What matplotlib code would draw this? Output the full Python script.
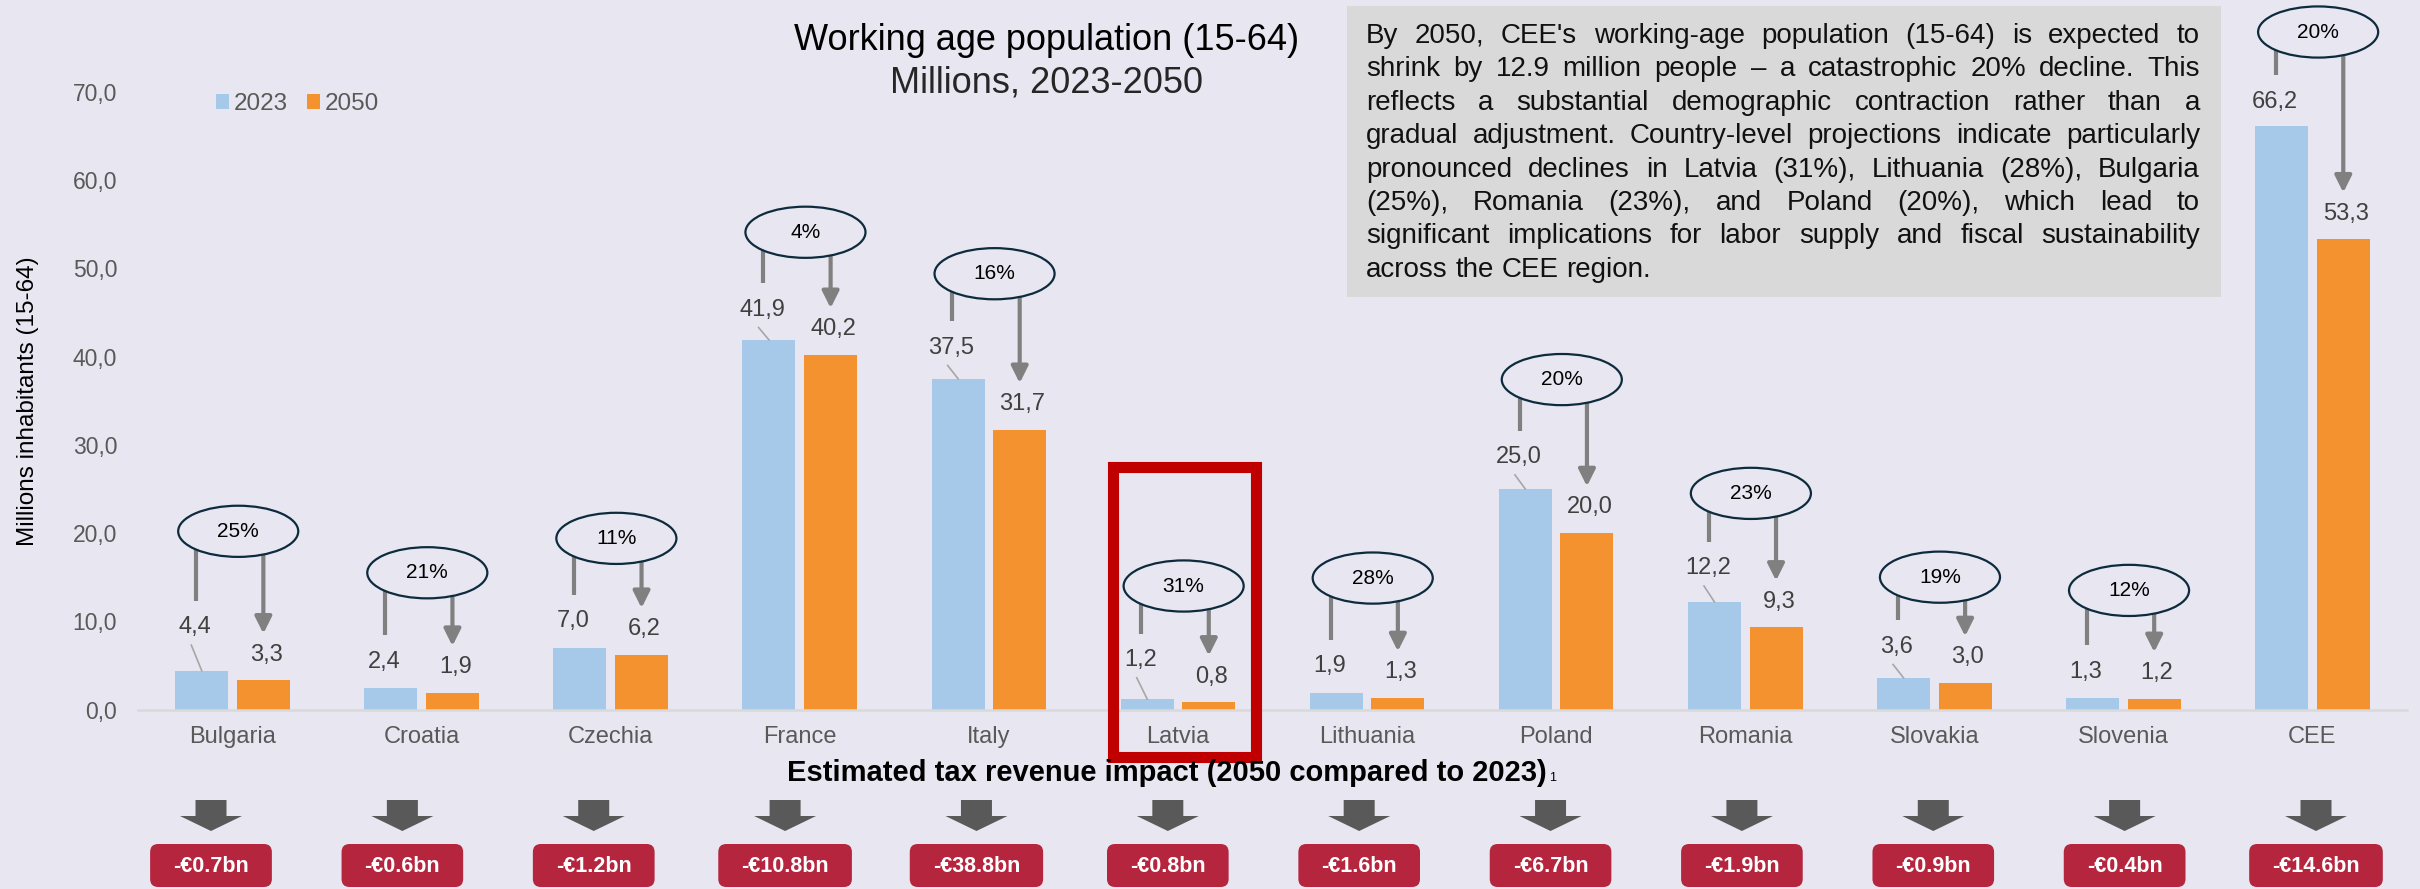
import matplotlib
matplotlib.use('Agg')
import matplotlib.pyplot as plt
import numpy as np
from matplotlib.patches import Ellipse, Rectangle, Polygon, FancyBboxPatch
from matplotlib.transforms import IdentityTransform

plt.rcParams['font.family'] = ['Liberation Sans', 'DejaVu Sans']

# data
categories = ['Bulgaria', 'Croatia', 'Czechia', 'France', 'Italy', 'Latvia',
              'Lithuania', 'Poland', 'Romania', 'Slovakia', 'Slovenia', 'CEE']
pop_2023 = [4.4, 2.4, 7.0, 41.9, 37.5, 1.2, 1.9, 25.0, 12.2, 3.6, 1.3, 66.2]
pop_2050 = [3.3, 1.9, 6.2, 40.2, 31.7, 0.8, 1.3, 20.0, 9.3, 3.0, 1.2, 53.3]
decline_pct = [25, 21, 11, 4, 16, 31, 28, 20, 23, 19, 12, 20]
tax_impact = ['-€0.7bn', '-€0.6bn', '-€1.2bn', '-€10.8bn', '-€38.8bn', '-€0.8bn',
              '-€1.6bn', '-€6.7bn', '-€1.9bn', '-€0.9bn', '-€0.4bn', '-€14.6bn']
years = ['2023', '2050']

# manual label placement (lift above the 2023 bar, as in the source)
bubble_lift = [15.8, 13.1, 12.4, 12.2, 11.9, 12.8, 13.0, 12.4, 12.3, 11.4, 12.2, 10.6]
label23_lift = [4.9, 3.0, 3.0, 3.4, 3.5, 4.4, 3.0, 3.6, 3.8, 3.5, 3.0, 2.7]
label50_lift = 2.9

note_lines = [
    "By 2050, CEE's working-age population (15-64) is expected to",
    "shrink by 12.9 million people \u2013 a catastrophic 20% decline. This",
    "reflects a substantial demographic contraction rather than a",
    "gradual adjustment. Country-level projections indicate particularly",
    "pronounced declines in Latvia (31%), Lithuania (28%), Bulgaria",
    "(25%), Romania (23%), and Poland (20%), which lead to",
    "significant implications for labor supply and fiscal sustainability",
    "across the CEE region.",
]

W, H = 2420, 889
BG = '#e8e7f1'
BLUE = '#a6c9ea'
ORANGE = '#f59230'
GREY_TXT = '#595959'
VAL_TXT = '#404040'
ARROW = '#808080'
NAVY = '#0d2b3d'
RED_BOX = '#b5253e'

fig = plt.figure(figsize=(W / 100, H / 100), dpi=100, facecolor=BG)
renderer = fig.canvas.get_renderer()


def fx(px):
    return px / W


def fy(py):
    return 1 - py / H


def width_of(s, size, weight='normal'):
    t = fig.text(0, 0, s, fontsize=size, fontweight=weight)
    w = t.get_window_extent(renderer).width
    t.remove()
    return w


ax = fig.add_axes([fx(138), fy(709.5), (2407 - 138) / W, 617.5 / H])
ax.set_facecolor(BG)

x = np.arange(len(categories))
bw = 0.28
off = 0.163
ax.bar(x - off, pop_2023, bw, color=BLUE, label=years[0], zorder=2)
ax.bar(x + off, pop_2050, bw, color=ORANGE, label=years[1], zorder=2)

ax.set_xlim(-0.5, len(categories) - 0.5)
ax.set_ylim(0, 70)
ax.set_xticks(x)
ax.set_xticklabels(categories)
yt = np.arange(0, 71, 10)
ax.set_yticks(yt)
ax.set_yticklabels([f"{v:.1f}".replace('.', ',') for v in yt])
ax.tick_params(axis='x', length=0, pad=12, labelsize=17, labelcolor=GREY_TXT)
ax.tick_params(axis='y', length=0, pad=15, labelsize=16.5, labelcolor=GREY_TXT)
for s in ['top', 'right', 'left']:
    ax.spines[s].set_visible(False)
ax.spines['bottom'].set_color('#d9d9d9')
ax.spines['bottom'].set_linewidth(1.8)
ax.set_ylabel('Millions inhabitants (15-64)', fontsize=17.5, color='black', labelpad=24)

leg = ax.legend(loc='center left', bbox_to_anchor=(fx(216), fy(104)), bbox_transform=fig.transFigure,
                ncol=2, frameon=False, fontsize=17.5, handlelength=0.55, handleheight=0.55,
                handletextpad=0.2, columnspacing=0.75, borderpad=0, borderaxespad=0)
for t in leg.get_texts():
    t.set_color(GREY_TXT)

# value labels, bubbles and arrows
for i, cat in enumerate(categories):
    bx = i - off
    ox = i + off
    v23 = pop_2023[i]
    v50 = pop_2050[i]
    ly23 = v23 + label23_lift[i]
    ly50 = v50 + label50_lift
    lx23 = bx - 0.035
    ax.text(lx23, ly23, f"{v23:.1f}".replace('.', ','), ha='center', va='center',
            fontsize=17, color=VAL_TXT, zorder=5)
    ax.text(ox + 0.015, ly50, f"{v50:.1f}".replace('.', ','), ha='center', va='center',
            fontsize=17, color=VAL_TXT, zorder=5)
    if label23_lift[i] > 3.2:
        ax.plot([bx - 0.055, bx], [ly23 - 2.0, v23], color='#a6a6a6', lw=1.2, zorder=4)

    cy = v23 + bubble_lift[i]
    cx = i + 0.03
    ax.add_patch(Ellipse((cx, cy), 0.635, 5.8, facecolor=BG, edgecolor=NAVY, lw=1.6,
                         zorder=6, clip_on=False))
    ax.text(cx, cy, f"{decline_pct[i]}%", ha='center', va='center', fontsize=15,
            color='black', zorder=7, clip_on=False)
    ax.plot([lx23 + 0.005, lx23 + 0.005], [cy, ly23 + 3.0], color=ARROW, lw=3,
            solid_capstyle='butt', zorder=4, clip_on=False)
    ax.annotate('', xy=(ox, ly50 + 2.4), xytext=(ox, cy), annotation_clip=False,
                arrowprops=dict(arrowstyle='-|>,head_length=1.0,head_width=0.5',
                                mutation_scale=10, color=ARROW, lw=3,
                                shrinkA=0, shrinkB=0), zorder=4)

# highlight Latvia
li = categories.index('Latvia')
ax.add_patch(Rectangle((li - 0.341, -5.33), 0.756, 32.77, fill=False, edgecolor='#c00000',
                       lw=8, joinstyle='miter', zorder=8, clip_on=False))

# titles
fig.text(fx(1047), fy(41), 'Working age population (15-64)', ha='center', va='center',
         fontsize=26, color='black')
fig.text(fx(1047), fy(83), 'Millions, 2023-2050', ha='center', va='center',
         fontsize=26, color='#262626')

# note box with justified text
fig.add_artist(Rectangle((1347, H - 297), 874, 291, facecolor='#d9d9d9', edgecolor='none',
                         transform=IdentityTransform(), zorder=1))
left, right = 1366, 2200
box_w = right - left
fs = 20
natural = max(width_of(l, fs) for l in note_lines[:-1])
if natural > box_w:
    fs = fs * box_w / natural
space_w = width_of('a a', fs) - width_of('aa', fs)
for k, line in enumerate(note_lines):
    words = line.split(' ')
    ws = [width_of(w, fs) for w in words]
    if k < len(note_lines) - 1:
        gap = (box_w - sum(ws)) / (len(words) - 1)
    else:
        gap = space_w
    cur = left
    base = 43 + 33.4 * k
    for w, wd in zip(words, ws):
        fig.text(fx(cur), fy(base), w, ha='left', va='baseline', fontsize=fs, color='#111111')
        cur += wd + gap

# tax revenue part
title2 = 'Estimated tax revenue impact (2050 compared to 2023)'
fig.text(fx(787), fy(773), title2, ha='left', va='center', fontsize=21,
         fontweight='bold', color='black')
t2w = width_of(title2, 21, 'bold')
fig.text(fx(787 + t2w + 2), fy(778), '1', ha='left', va='center', fontsize=9, color='black')

# the boxes row sits on its own, slightly wider pitch than the bars
box_cx = np.linspace(211, 2316, len(tax_impact))
for i, lab in enumerate(tax_impact):
    cx_px = box_cx[i]
    pts = [(cx_px - 15.5, H - 800), (cx_px + 15.5, H - 800), (cx_px + 15.5, H - 816),
           (cx_px + 31, H - 816), (cx_px, H - 831), (cx_px - 31, H - 816),
           (cx_px - 15.5, H - 816)]
    fig.add_artist(Polygon(pts, closed=True, facecolor='#595959', edgecolor='none',
                           transform=IdentityTransform()))
    tw = width_of(lab, 15.5, 'bold')
    bwid = tw + 46
    fig.add_artist(FancyBboxPatch((cx_px - bwid / 2, H - 887), bwid, 43,
                                  boxstyle='round,pad=0,rounding_size=8',
                                  facecolor=RED_BOX, edgecolor='none',
                                  transform=IdentityTransform(), zorder=2))
    fig.text(fx(cx_px), fy(866), lab, ha='center', va='center', fontsize=15.5,
             fontweight='bold', color='white', zorder=3)

fig.savefig('out.png', dpi=100, facecolor=BG)
